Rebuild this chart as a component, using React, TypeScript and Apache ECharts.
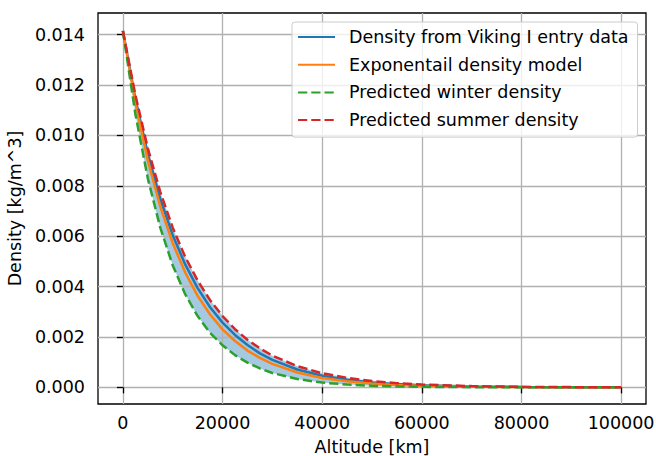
import React, { useEffect, useRef } from "react";
import * as echarts from "echarts";

// Altitude samples (as labelled on the chart) and densities
const altitudes = [0, 2500, 5000, 7500, 10000, 12500, 15000, 17500, 20000, 22500, 25000, 27500, 30000, 35000, 40000, 45000, 50000, 55000, 60000, 70000, 80000, 90000, 100000];
const vikingDensity = [0.01415, 0.01147, 0.00926, 0.00748, 0.00604, 0.00488, 0.00394, 0.00318, 0.00257, 0.00208, 0.00168, 0.00135, 0.00109, 0.00071, 0.00046, 0.0003, 0.000198, 0.000129, 0.000084, 0.000036, 0.000015, 0.0000065, 0.0000028];
const expModel = [0.01415, 0.01131, 0.00901, 0.00718, 0.00572, 0.00456, 0.00363, 0.00289, 0.0023, 0.00184, 0.00146, 0.00117, 0.00093, 0.00059, 0.00037, 0.00024, 0.00015, 0.000096, 0.000061, 0.000024, 0.0000099, 0.000004, 0.0000016];
const winterDensity = [0.01415, 0.01085, 0.00829, 0.00634, 0.00484, 0.0037, 0.00283, 0.00216, 0.00167, 0.00128, 0.00098, 0.00075, 0.00057, 0.00033, 0.00019, 0.000112, 0.000066, 0.000038, 0.000022, 0.0000077, 0.0000026, 0.0000009, 0.0000003];
const summerDensity = [0.01415, 0.01161, 0.00949, 0.00776, 0.00634, 0.00518, 0.00424, 0.00346, 0.00283, 0.00231, 0.00189, 0.00155, 0.00126, 0.00084, 0.00056, 0.00038, 0.00025, 0.000168, 0.000112, 0.00005, 0.000022, 0.00001, 0.0000045];

const xTicks = [0, 20000, 40000, 60000, 80000, 100000];
const yTicks = [0, 0.002, 0.004, 0.006, 0.008, 0.01, 0.012, 0.014];

const seriesNames = [
  "Density from Viking I entry data",
  "Exponentail density model",
  "Predicted winter density",
  "Predicted summer density",
];

const FONT = "DejaVu Sans";
const FS = 17.5;

export default function App() {
  const ref = useRef<HTMLDivElement>(null);
  useEffect(() => {
    if (!ref.current) return;
    const chart = echarts.init(ref.current, null, { renderer: "svg" });
    const pairs = (ys: number[]) => altitudes.map((h, i) => [h, ys[i]]);
    const dash = [9.25, 4];
    const option: any = {
      animation: false,
      backgroundColor: "#ffffff",
      textStyle: { fontFamily: FONT },
      grid: {
        left: 98,
        top: 13,
        width: 548,
        height: 391,
        show: true,
        containLabel: false,
        outerBoundsMode: "none",
        borderColor: "#000000",
        borderWidth: 1.3,
        backgroundColor: "transparent",
      },
      legend: {
        orient: "vertical",
        left: 292,
        top: 22,
        itemWidth: 37,
        itemHeight: 20,
        itemGap: 7.7,
        padding: [5, 9, 7, 5],
        backgroundColor: "rgba(255,255,255,0.8)",
        borderColor: "#cccccc",
        borderWidth: 1,
        borderRadius: 3,
        data: seriesNames,
        itemStyle: { color: "transparent", opacity: 0, borderWidth: 0 },
        textStyle: {
          fontFamily: FONT,
          fontSize: FS,
          color: "#000000",
          lineHeight: 20,
          padding: [0, 0, 0, 9],
        },
      },
      xAxis: {
        type: "value",
        min: -5000,
        max: 105000,
        z: 1.5,
        name: "Altitude [km]",
        nameLocation: "middle",
        nameGap: 34,
        nameTextStyle: { fontFamily: FONT, fontSize: FS, color: "#000000", lineHeight: 18 },
        axisLine: { show: false },
        axisTick: {
          show: true,
          inside: false,
          length: 6,
          customValues: xTicks,
          lineStyle: { color: "#000000", width: 1.3 },
        },
        axisLabel: {
          customValues: xTicks,
          margin: 10,
          fontFamily: FONT,
          fontSize: FS,
          color: "#000000",
          formatter: (v: number) => String(v),
        },
        splitLine: { show: true, lineStyle: { color: "#b0b0b0", width: 1.3 } },
      },
      yAxis: {
        type: "value",
        min: -0.00066,
        max: 0.01486,
        z: 1.5,
        name: "Density [kg/m^3]",
        nameLocation: "middle",
        nameGap: 70,
        nameTextStyle: { fontFamily: FONT, fontSize: FS, color: "#000000" },
        axisLine: { show: false },
        axisTick: {
          show: true,
          inside: false,
          length: 6,
          customValues: yTicks,
          lineStyle: { color: "#000000", width: 1.3 },
        },
        axisLabel: {
          customValues: yTicks,
          margin: 13,
          fontFamily: FONT,
          fontSize: FS,
          color: "#000000",
          formatter: (v: number) => v.toFixed(3),
        },
        splitLine: { show: true, lineStyle: { color: "#b0b0b0", width: 1.3 } },
      },
      series: [
        {
          type: "custom",
          name: "band",
          z: 1,
          silent: true,
          data: [[0, 0]],
          renderItem: (params: any, api: any) => {
            const top = altitudes.map((h, i) => api.coord([h, summerDensity[i]]));
            const bottom = altitudes
              .map((h, i) => api.coord([h, winterDensity[i]]))
              .reverse();
            return {
              type: "polygon",
              shape: { points: top.concat(bottom) },
              style: { fill: "rgba(31,119,180,0.4)", stroke: "none" },
            };
          },
        },
        {
          type: "line",
          name: seriesNames[0],
          data: pairs(vikingDensity),
          symbol: "none",
          showSymbol: false,
          z: 2,
          lineStyle: { color: "#1f77b4", width: 2.5 },
          itemStyle: { color: "#1f77b4" },
        },
        {
          type: "line",
          name: seriesNames[1],
          data: pairs(expModel),
          symbol: "none",
          showSymbol: false,
          z: 2,
          lineStyle: { color: "#ff7f0e", width: 2.5 },
          itemStyle: { color: "#ff7f0e" },
        },
        {
          type: "line",
          name: seriesNames[2],
          data: pairs(winterDensity),
          symbol: "none",
          showSymbol: false,
          z: 2,
          lineStyle: { color: "#2ca02c", width: 2.5, type: dash },
          itemStyle: { color: "#2ca02c" },
        },
        {
          type: "line",
          name: seriesNames[3],
          data: pairs(summerDensity),
          symbol: "none",
          showSymbol: false,
          z: 2,
          lineStyle: { color: "#d62728", width: 2.5, type: dash },
          itemStyle: { color: "#d62728" },
        },
      ],
    };
    chart.setOption(option);
    return () => chart.dispose();
  }, []);
  return (
    <div
      ref={ref}
      style={{ position: "fixed", left: 0, top: 0, width: 656, height: 456, background: "#fff" }}
    />
  );
}
